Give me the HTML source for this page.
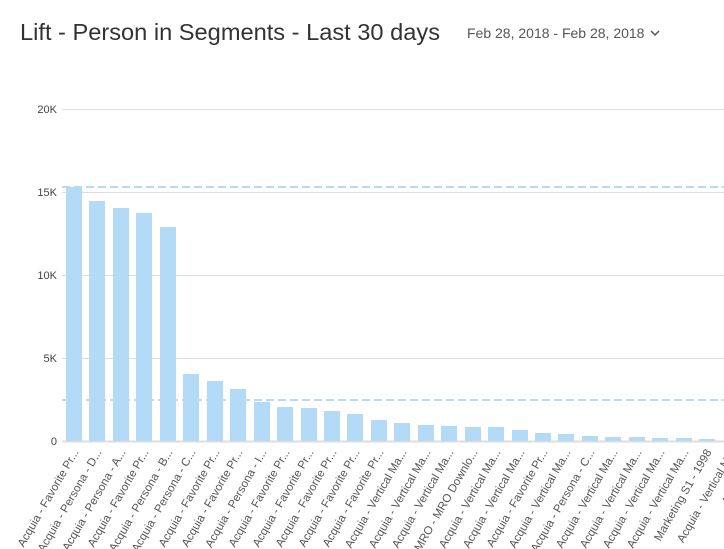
<!DOCTYPE html>
<html><head><meta charset="utf-8"><style>
html,body{margin:0;padding:0;background:#fff;width:724px;height:549px;overflow:hidden}
svg{display:block;font-family:"Liberation Sans",sans-serif}
</style></head><body>
<svg width="724" height="549" viewBox="0 0 724 549" xmlns="http://www.w3.org/2000/svg">
<text x="20" y="40" font-size="23" fill="#333" textLength="420" lengthAdjust="spacingAndGlyphs">Lift - Person in Segments - Last 30 days</text>
<text x="467" y="38" font-size="14" fill="#555">Feb 28, 2018 - Feb 28, 2018</text>
<path d="M651 31 l4 4 l4 -4" fill="none" stroke="#555" stroke-width="1.5"/>
<g stroke="#ddd" stroke-width="1">
<line x1="62" y1="109.5" x2="724" y2="109.5"/>
<line x1="62" y1="192.5" x2="724" y2="192.5"/>
<line x1="62" y1="275.5" x2="724" y2="275.5"/>
<line x1="62" y1="358.5" x2="724" y2="358.5"/>
<line x1="62" y1="441.5" x2="724" y2="441.5" stroke-width="2"/>
</g>
<g font-size="11" fill="#444" text-anchor="end">
<text x="57" y="113">20K</text>
<text x="57" y="196">15K</text>
<text x="57" y="279">10K</text>
<text x="57" y="362">5K</text>
<text x="57" y="445">0</text>
</g>
<g fill="#b3dbf8">
<rect x="66" y="187" width="16" height="254"/>
<rect x="89" y="201" width="16" height="240"/>
<rect x="113" y="208" width="16" height="233"/>
<rect x="136" y="213" width="16" height="228"/>
<rect x="160" y="227" width="16" height="214"/>
<rect x="183" y="374" width="16" height="67"/>
<rect x="207" y="381" width="16" height="60"/>
<rect x="230" y="389" width="16" height="52"/>
<rect x="254" y="402" width="16" height="39"/>
<rect x="277" y="407" width="16" height="34"/>
<rect x="301" y="408" width="16" height="33"/>
<rect x="324" y="411" width="16" height="30"/>
<rect x="347" y="414" width="16" height="27"/>
<rect x="371" y="420" width="16" height="21"/>
<rect x="394" y="423" width="16" height="18"/>
<rect x="418" y="425" width="16" height="16"/>
<rect x="441" y="426" width="16" height="15"/>
<rect x="465" y="427" width="16" height="14"/>
<rect x="488" y="427" width="16" height="14"/>
<rect x="512" y="430" width="16" height="11"/>
<rect x="535" y="433" width="16" height="8"/>
<rect x="558" y="434" width="16" height="7"/>
<rect x="582" y="436" width="16" height="5"/>
<rect x="605" y="437" width="16" height="4"/>
<rect x="629" y="437" width="16" height="4"/>
<rect x="652" y="438" width="16" height="3"/>
<rect x="676" y="438" width="16" height="3"/>
<rect x="699" y="439" width="16" height="2"/>
</g>
<g stroke="#b3dbf8" stroke-width="2" stroke-dasharray="8,4">
<line x1="62" y1="187" x2="724" y2="187"/>
<line x1="62" y1="400" x2="724" y2="400"/>
</g>
<g font-size="11.5" fill="#555" text-anchor="end">
<text transform="translate(79,452) rotate(-60)">Acquia - Favorite Pr...</text>
<text transform="translate(102,452) rotate(-60)">Acquia - Persona - D...</text>
<text transform="translate(126,452) rotate(-60)">Acquia - Persona - A...</text>
<text transform="translate(149,452) rotate(-60)">Acquia - Favorite Pr...</text>
<text transform="translate(173,452) rotate(-60)">Acquia - Persona - B...</text>
<text transform="translate(196,452) rotate(-60)">Acquia - Persona - C...</text>
<text transform="translate(220,452) rotate(-60)">Acquia - Favorite Pr...</text>
<text transform="translate(243,452) rotate(-60)">Acquia - Favorite Pr...</text>
<text transform="translate(267,452) rotate(-60)">Acquia - Persona - I...</text>
<text transform="translate(290,452) rotate(-60)">Acquia - Favorite Pr...</text>
<text transform="translate(314,452) rotate(-60)">Acquia - Favorite Pr...</text>
<text transform="translate(337,452) rotate(-60)">Acquia - Favorite Pr...</text>
<text transform="translate(360,452) rotate(-60)">Acquia - Favorite Pr...</text>
<text transform="translate(384,452) rotate(-60)">Acquia - Favorite Pr...</text>
<text transform="translate(407,452) rotate(-60)">Acquia - Vertical Ma...</text>
<text transform="translate(431,452) rotate(-60)">Acquia - Vertical Ma...</text>
<text transform="translate(454,452) rotate(-60)">Acquia - Vertical Ma...</text>
<text transform="translate(478,452) rotate(-60)">MRO - MRO Downlo...</text>
<text transform="translate(501,452) rotate(-60)">Acquia - Vertical Ma...</text>
<text transform="translate(525,452) rotate(-60)">Acquia - Vertical Ma...</text>
<text transform="translate(548,452) rotate(-60)">Acquia - Favorite Pr...</text>
<text transform="translate(571,452) rotate(-60)">Acquia - Vertical Ma...</text>
<text transform="translate(595,452) rotate(-60)">Acquia - Persona - C...</text>
<text transform="translate(618,452) rotate(-60)">Acquia - Vertical Ma...</text>
<text transform="translate(642,452) rotate(-60)">Acquia - Vertical Ma...</text>
<text transform="translate(665,452) rotate(-60)">Acquia - Vertical Ma...</text>
<text transform="translate(689,452) rotate(-60)">Acquia - Vertical Ma...</text>
<text transform="translate(712,452) rotate(-60)">Marketing S1 - 1998</text>
<text transform="translate(736,452) rotate(-60)">Acquia - Vertical M...</text>
<text transform="translate(759,452) rotate(-60)">Marketing...</text>
</g>
</svg>
</body></html>
